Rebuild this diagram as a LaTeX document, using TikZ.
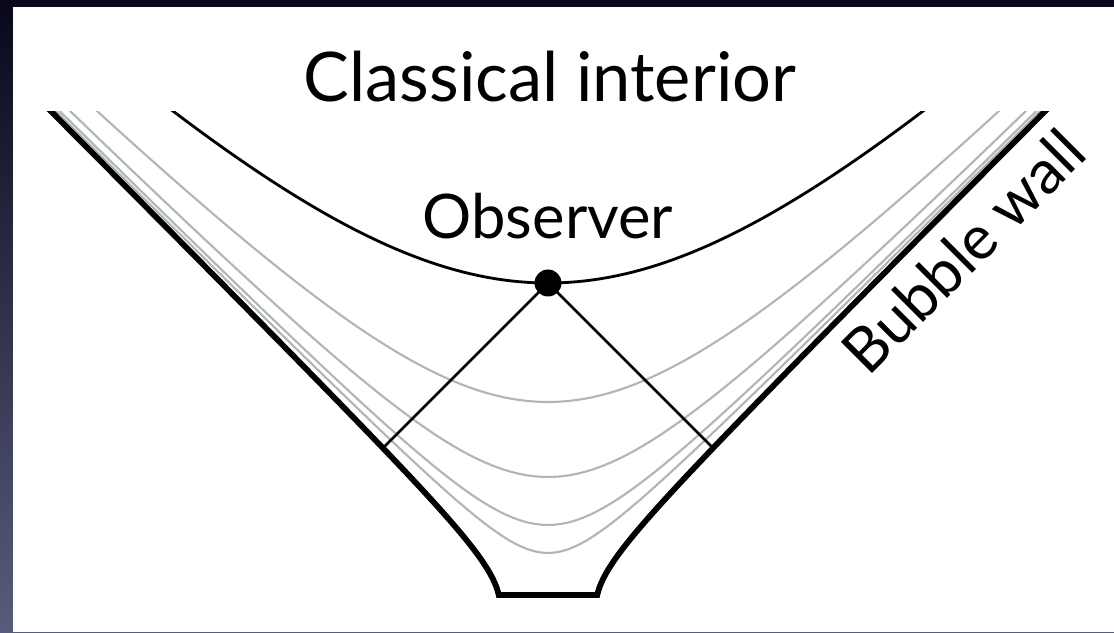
\documentclass[tikz,border=0pt]{standalone}
\usepackage{fontspec}
\setmainfont{Lato}
\usepackage{tikz}
\usetikzlibrary{positioning,calc}
\definecolor{slicegray}{RGB}{176,182,182}
\definecolor{framedark}{RGB}{8,8,26}
\definecolor{framelight}{RGB}{88,92,124}

\begin{document}
\begin{tikzpicture}[x=2cm,y=2cm,
   wall/.style={line width=3.3pt,line join=miter},
   slice/.style={slicegray,line width=1.2pt},
   cut/.style={line width=1.6pt},
   bigtext/.style={font=\fontsize{39}{44}\selectfont,inner sep=0pt},
   midtext/.style={font=\fontsize{35}{40}\selectfont,inner sep=0pt}]
  % frame
  \shade[top color=framedark,bottom color=framelight] (-5.48,-0.26) rectangle (5.66,6.06);
  \fill[white] (-5.35,-0.26) rectangle (5.66,5.99);
  \useasboundingbox (-5.48,-0.26) rectangle (5.66,6.06);
  \begin{scope}
    \clip (-5.48,-0.3) rectangle (5.66,4.94);
    % constant time slices
    \foreach \t in {0.53,0.81,1.29,2.04}
      \draw[slice] plot[domain=-5:5,samples=120] (\x,{sqrt(\t*\t+\x*\x)});
    \draw[cut] plot[domain=-4:4,samples=100] (\x,{sqrt(3.23*3.23+\x*\x)});
    % bubble wall
    \draw[wall] plot[domain=5.1:0.11,samples=120] ({-sqrt(0.2304+\x*\x)},\x)
      -- plot[domain=0.11:5.1,samples=120] ({sqrt(0.2304+\x*\x)},\x);
  \end{scope}
  \node[circle,fill,inner sep=0pt,minimum size=0.54cm] (obs) at (0,3.23) {};
  \coordinate (hitL) at (-1.651,1.579);
  \coordinate (hitR) at (1.651,1.579);
  \draw[cut] (obs.center) -- (hitL);
  \draw[cut] (obs.center) -- (hitR);
  \node[midtext,above=0.6cm of obs] (obsname) {Observer};
  \node[bigtext] (interior) at (0.02,5.29) {Classical interior};
  \node[midtext,rotate=45] (wallname) at (4.15,3.55) {Bubble wall};
\end{tikzpicture}
\end{document}
